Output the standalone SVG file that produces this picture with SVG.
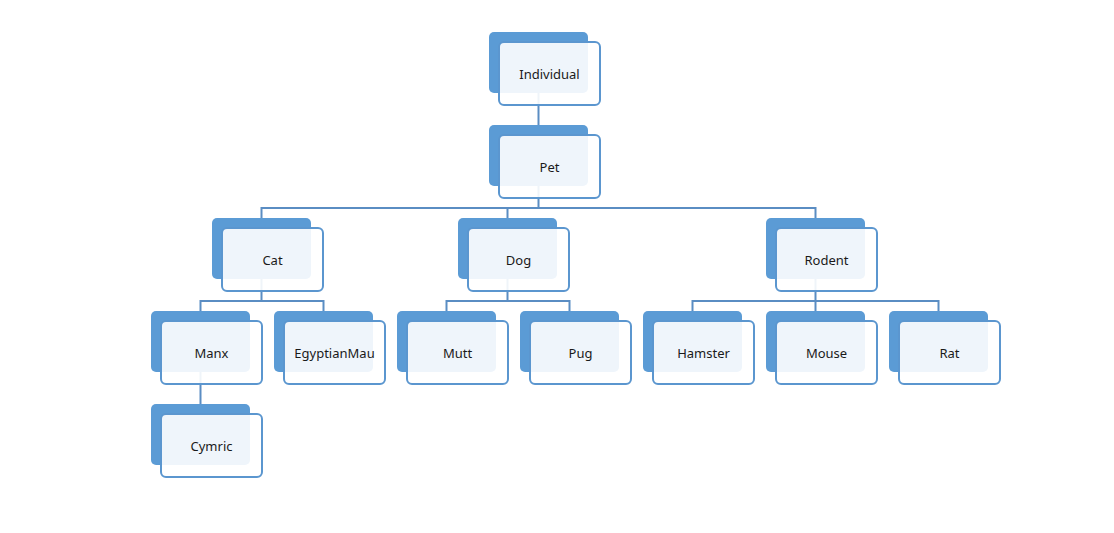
<svg xmlns="http://www.w3.org/2000/svg" width="1114" height="533" viewBox="0 0 1114 533">
<style>
.back{fill:#5b9bd5;}
.front{fill:#ffffff;fill-opacity:0.9;stroke:#5b96cf;stroke-width:2;}
.lbl{font-family:"Noto Sans","Liberation Sans",sans-serif;font-size:13px;fill:#1a1a1a;text-anchor:middle;dominant-baseline:central;}
.conn{fill:none;stroke:#5a8dc3;stroke-width:2;}
</style>
<rect width="1114" height="533" fill="#ffffff"/>
<g id="connectors">
<path class="conn" d="M538.5 93 V125"/>
<path class="conn" d="M538.5 186 V208 M261.5 218 V208 H815.5 V218 M507.5 208 V218"/>
<path class="conn" d="M261.5 279 V301 M200.5 311 V301 H323.5 V311"/>
<path class="conn" d="M507.5 279 V301 M446.5 311 V301 H569.5 V311"/>
<path class="conn" d="M815.5 279 V301 M692.5 311 V301 H938.5 V311 M815.5 301 V311"/>
<path class="conn" d="M200.5 372 V404"/>
</g>
<g id="individual"><rect class="back" x="489" y="32" width="99" height="61" rx="5"/><rect class="front" x="499" y="42" width="101" height="63" rx="5"/><text class="lbl" x="549.5" y="73.5">Individual</text></g>
<g id="pet"><rect class="back" x="489" y="125" width="99" height="61" rx="5"/><rect class="front" x="499" y="135" width="101" height="63" rx="5"/><text class="lbl" x="549.5" y="166.5">Pet</text></g>
<g id="cat"><rect class="back" x="212" y="218" width="99" height="61" rx="5"/><rect class="front" x="222" y="228" width="101" height="63" rx="5"/><text class="lbl" x="272.5" y="259.5">Cat</text></g>
<g id="dog"><rect class="back" x="458" y="218" width="99" height="61" rx="5"/><rect class="front" x="468" y="228" width="101" height="63" rx="5"/><text class="lbl" x="518.5" y="259.5">Dog</text></g>
<g id="rodent"><rect class="back" x="766" y="218" width="99" height="61" rx="5"/><rect class="front" x="776" y="228" width="101" height="63" rx="5"/><text class="lbl" x="826.5" y="259.5">Rodent</text></g>
<g id="manx"><rect class="back" x="151" y="311" width="99" height="61" rx="5"/><rect class="front" x="161" y="321" width="101" height="63" rx="5"/><text class="lbl" x="211.5" y="352.5">Manx</text></g>
<g id="egyptianmau"><rect class="back" x="274" y="311" width="99" height="61" rx="5"/><rect class="front" x="284" y="321" width="101" height="63" rx="5"/><text class="lbl" x="334.5" y="352.5">EgyptianMau</text></g>
<g id="mutt"><rect class="back" x="397" y="311" width="99" height="61" rx="5"/><rect class="front" x="407" y="321" width="101" height="63" rx="5"/><text class="lbl" x="457.5" y="352.5">Mutt</text></g>
<g id="pug"><rect class="back" x="520" y="311" width="99" height="61" rx="5"/><rect class="front" x="530" y="321" width="101" height="63" rx="5"/><text class="lbl" x="580.5" y="352.5">Pug</text></g>
<g id="hamster"><rect class="back" x="643" y="311" width="99" height="61" rx="5"/><rect class="front" x="653" y="321" width="101" height="63" rx="5"/><text class="lbl" x="703.5" y="352.5">Hamster</text></g>
<g id="mouse"><rect class="back" x="766" y="311" width="99" height="61" rx="5"/><rect class="front" x="776" y="321" width="101" height="63" rx="5"/><text class="lbl" x="826.5" y="352.5">Mouse</text></g>
<g id="rat"><rect class="back" x="889" y="311" width="99" height="61" rx="5"/><rect class="front" x="899" y="321" width="101" height="63" rx="5"/><text class="lbl" x="949.5" y="352.5">Rat</text></g>
<g id="cymric"><rect class="back" x="151" y="404" width="99" height="61" rx="5"/><rect class="front" x="161" y="414" width="101" height="63" rx="5"/><text class="lbl" x="211.5" y="445.5">Cymric</text></g>
</svg>
